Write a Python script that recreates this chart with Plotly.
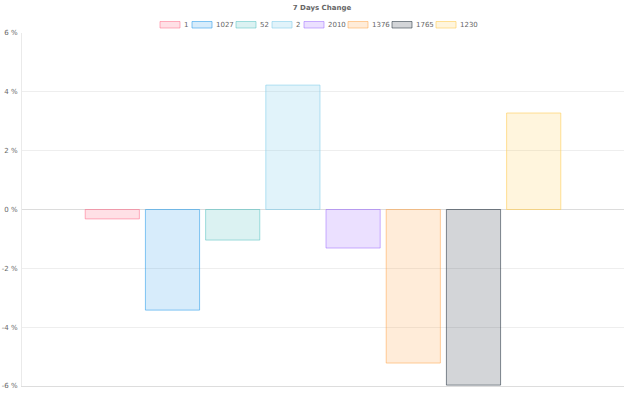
import plotly.graph_objects as go

categories = ["7 Days Change"]
series_names = ["1", "1027", "52", "2", "2010", "1376", "1765", "1230"]
series_values = [-0.32, -3.42, -1.04, 4.23, -1.31, -5.22, -5.97, 3.28]
fill_colors = ["rgba(255,99,132,0.2)", "rgba(54,162,235,0.2)", "rgba(75,192,192,0.2)",
               "rgba(135,206,235,0.25)", "rgba(153,102,255,0.2)", "rgba(255,159,64,0.2)",
               "rgba(33,47,61,0.2)", "rgba(255,205,86,0.2)"]
line_colors = ["rgba(255,99,132,0.5)", "rgba(54,162,235,0.6)", "rgba(75,192,192,0.5)",
               "rgba(135,206,235,0.6)", "rgba(153,102,255,0.5)", "rgba(255,159,64,0.5)",
               "rgba(33,47,61,0.55)", "rgba(255,205,86,0.6)"]
y_ticks = [-6, -4, -2, 0, 2, 4, 6]

W, H = 640, 400
L, R, T, B = 22, 16, 33, 14
pw, ph = W - L - R, H - T - B

fig = go.Figure()
for name, val, fc, lc in zip(series_names, series_values, fill_colors, line_colors):
    fig.add_trace(go.Bar(x=categories, y=[val], name=name, showlegend=False,
                         marker=dict(color=fc, line=dict(color=lc, width=1))))

# Chart.js-like legend built from shapes + text
def px_x(p):
    return (p - L) / pw

def px_y(p):
    return (H - B - p) / ph

box_w, gap, pad, char_w = 20, 3, 5, 4.0
widths = [box_w + gap + char_w * len(n) for n in series_names]
total = sum(widths) + pad * (len(widths) - 1)
center = 317.5
x0 = center - total / 2
shapes, annotations = [], []
for name, wdt, fc, lc in zip(series_names, widths, fill_colors, line_colors):
    shapes.append(dict(type="rect", xref="paper", yref="paper",
                       x0=px_x(x0), x1=px_x(x0 + box_w), y0=px_y(28), y1=px_y(21.5),
                       fillcolor=fc, line=dict(color=lc, width=1)))
    annotations.append(dict(xref="paper", yref="paper", x=px_x(x0 + box_w + gap - 1), y=px_y(25),
                            xanchor="left", yanchor="middle", text=name, showarrow=False,
                            font=dict(size=7, color="#666")))
    x0 += wdt + pad

fig.update_layout(
    width=W, height=H,
    barmode="group", bargap=0.2, bargroupgap=0.1,
    paper_bgcolor="white", plot_bgcolor="white",
    margin=dict(l=L, r=R, t=T, b=B, autoexpand=False),
    font=dict(family="DejaVu Sans", size=8, color="#666"),
    title=dict(text="<b>7 Days Change</b>", x=322 / W, xanchor="center", y=1 - 8 / H, yanchor="middle",
               font=dict(size=7, color="#666")),
    showlegend=False,
    shapes=shapes, annotations=annotations,
)
fig.update_xaxes(showticklabels=False, showgrid=False, showline=True, linecolor="#ddd",
                 linewidth=1, range=[-0.5, 0.5], automargin=False)
fig.update_yaxes(range=[-6, 6], tickvals=y_ticks, ticktext=[f"{v} %" for v in y_ticks],
                 showgrid=True, gridcolor="#eeeeee", gridwidth=1,
                 zeroline=True, zerolinecolor="#dcdcdc", zerolinewidth=1,
                 showline=True, linecolor="#eaeaea", ticks="outside", ticklen=2,
                 tickcolor="rgba(0,0,0,0)", tickfont=dict(size=7, color="#666"),
                 automargin=False)

fig.write_html("out.html", config={"displayModeBar": False},
               post_script="document.body.style.margin='0';document.body.style.overflow='hidden';")
